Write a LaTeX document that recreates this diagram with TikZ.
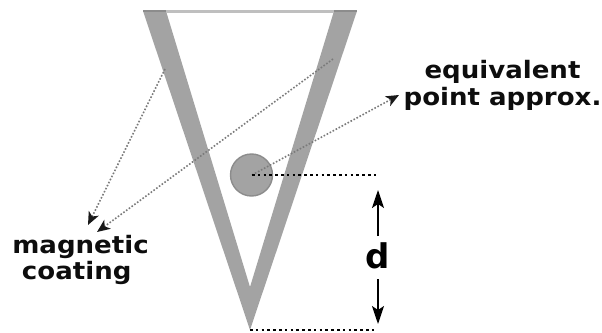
\documentclass[tikz,border=0pt]{standalone}
\usepackage{fontspec}
\setmainfont{DejaVu Sans}
\usetikzlibrary{arrows.meta}
\definecolor{coat}{HTML}{A3A3A3}
\definecolor{coatedge}{HTML}{8C8C8C}
\definecolor{guide}{HTML}{7A7A7A}
\tikzset{
  x=1pt,y=-1pt,
  label text/.style={font=\bfseries\fontsize{24}{26.5}\selectfont,align=center,inner sep=0pt,text=black!95,xscale=1.085,transform shape},
  guide arrow/.style={draw=guide,line width=1.6pt,dash pattern=on 1.6pt off 1.8pt,-{Stealth[length=13pt,width=11pt,inset=3.5pt,color=black!90]}},
  level line/.style={draw=black,line width=2.4pt,dash pattern=on 2.6pt off 3.2pt},
  dim arrow/.style={draw=black,line width=1.8pt,-{Stealth[length=18pt,width=12pt,inset=4pt]}}
}
\begin{document}
\begin{tikzpicture}
\useasboundingbox (0,0) rectangle (602,332);
% cone
\fill[coat] (143,11) -- (166,11) -- (250,287) -- (334,11) -- (357,11) -- (250,330) -- cycle;
\draw[black!25,line width=3pt] (166,11) -- (334,11);
\draw[coatedge,line width=2.5pt] (143,11) -- (166,11);
\draw[coatedge,line width=2.5pt] (334,11) -- (357,11);
% equivalent point
\node[circle,fill=coat,draw=coatedge,line width=1.4pt,minimum size=42pt,inner sep=0pt] (pt) at (251.5,175) {};
% anchors
\coordinate (ptc) at (252,175);
\coordinate (left) at (165,69);
\coordinate (right) at (333,59);
\coordinate (lv1) at (376,175);
\coordinate (tip) at (250,330);
\coordinate (lv2) at (376,330);
\node[label text] (mag) at (80.5,260) {magnetic\\coating\kern7pt};
\node[label text] (eq) at (502.5,85.5) {equivalent\\point approx.};
\node[font=\bfseries\fontsize{34}{36}\selectfont,inner sep=0pt,text=black] (d) at (377.5,256) {d};
\coordinate (m1) at (88,225);
\coordinate (m2) at (97,232);
\coordinate (e1) at (399,95);
\coordinate (up) at (378,190);
\coordinate (dn) at (378,324);
\coordinate (d1) at (378,236);
\coordinate (d2) at (378,279);
% connectors
\draw[guide arrow] (left) -- (m1);
\draw[guide arrow] (right) -- (m2);
\draw[guide arrow] (ptc) -- (e1);
\draw[level line] (ptc) -- (lv1);
\draw[level line] (tip) -- (lv2);
\draw[dim arrow] (d1) -- (up);
\draw[dim arrow] (d2) -- (dn);
\end{tikzpicture}
\end{document}
